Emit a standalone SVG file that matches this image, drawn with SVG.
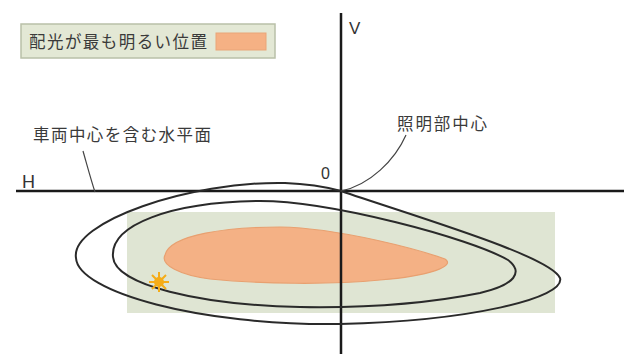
<svg xmlns="http://www.w3.org/2000/svg" width="629" height="354" viewBox="0 0 629 354">
<style>
.t{font-family:"Noto Sans CJK JP","Noto Sans",sans-serif;fill:#3a3a3a;font-size:16.5px}
.l{font-family:"Liberation Sans",Arial,sans-serif;fill:#333;font-size:17px}
.ax{stroke:#1a1a1a;stroke-width:2.5;fill:none}
.c{stroke:#2a2a2a;stroke-width:2;fill:none}
.ld{stroke:#444;stroke-width:1.2;fill:none}
</style>
<rect width="629" height="354" fill="#fff"/>
<g id="legend">
<rect x="21" y="24" width="254" height="34" fill="#e3e8d5" stroke="#b9c0a8" stroke-width="1.5"/>
<text class="t" x="29" y="48" textLength="178" lengthAdjust="spacing">配光が最も明るい位置</text>
<rect x="216" y="33" width="50" height="17" fill="#f5b184" stroke="#e9a578"/>
</g>
<g id="zone">
<rect x="127" y="212" width="428" height="101" fill="#dfe5d3"/>
</g>
<g id="hotspot">
<path d="M165,255 C170,234 230,227 280,227 C340,228 420,250 445,259 C456,266 430,276 380,280 C330,285 260,284 210,279 C180,275 160,265 165,255 Z" fill="#f4b185" stroke="#e8a070" stroke-width="1.2"/>
</g>
<g id="axes">
<line class="ax" x1="16" y1="191" x2="624" y2="191"/>
<line class="ax" x1="341" y1="13" x2="341" y2="354"/>
<text class="l" x="349" y="34">V</text>
<text class="l" x="22" y="188" style="font-size:18px">H</text>
<text class="l" x="321" y="179" style="font-size:16px">0</text>
</g>
<g id="contours">
<path class="c" d="M76,258 C70,222 190,181 285,183 C315,184 330,188 341,191 C420,218 550,256 560,278 C566,298 470,321 340,324 C200,326 78,292 76,258 Z"/>
<path class="c" d="M113,257 C110,225 170,202 260,201 C330,201 470,238 508,260 C524,272 515,285 480,293 C420,305 360,308 300,307 C200,305 115,285 113,257 Z"/>
</g>
<g id="star" fill="#f7b520" stroke="#f5ac18" stroke-width="2">
<circle cx="159" cy="282" r="4"/>
<path d="M159,272 V292 M149,282 H169 M152,275 L166,289 M166,275 L152,289"/>
</g>
<g id="label-plane">
<text class="t" x="33" y="141" textLength="178" lengthAdjust="spacing">車両中心を含む水平面</text>
</g>
<g id="label-center">
<text class="t" x="397" y="130" textLength="90" lengthAdjust="spacing">照明部中心</text>
</g>
<g id="connectors">
<path class="ld" d="M83,151 C87,165 91,180 95,192"/>
<path class="ld" d="M406,135 C395,160 370,185 341,191"/>
</g>
</svg>
